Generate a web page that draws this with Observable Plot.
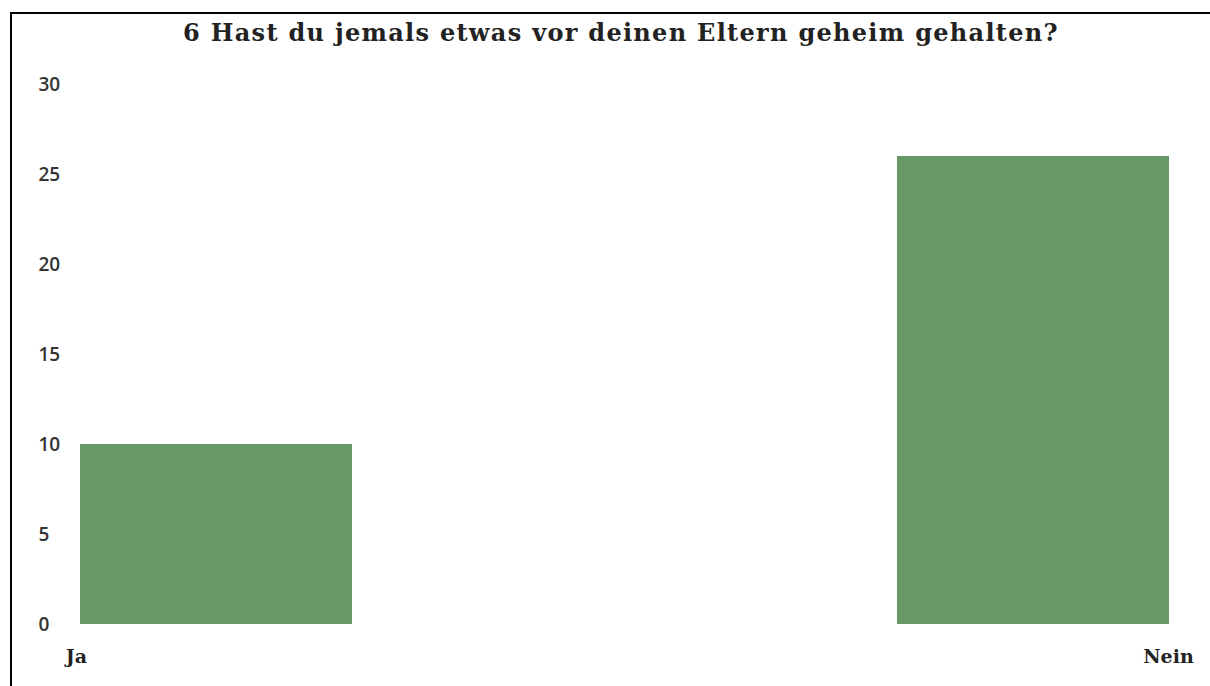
<!DOCTYPE html>
<html>
<head>
<meta charset="utf-8">
<script src="https://cdn.jsdelivr.net/npm/d3@7"></script>
<script src="https://cdn.jsdelivr.net/npm/@observablehq/plot@0.6"></script>
<style>
  html, body { margin: 0; padding: 0; background: #fff; }
  body { width: 1210px; height: 686px; position: relative; overflow: hidden; }
  #frame { position: absolute; left: 10px; top: 12px; width: 1198px; height: 680px;
           border-top: 2px solid #000; border-left: 2px solid #000; }
  #title { position: absolute; left: 11px; width: 1220px; top: 18px; text-align: center;
           font-family: "DejaVu Serif", serif; font-weight: bold; font-size: 24px;
           letter-spacing: 1.3px; color: #222; }
  #chart { position: absolute; left: 0; top: 60px; }
</style>
</head>
<body>
<div id="frame"></div>
<div id="title">6 Hast du jemals etwas vor deinen Eltern geheim gehalten?</div>
<div id="chart"></div>
<script>
const categories = ["Ja", "Nein"];
const counts = [10, 26];
const yTicks = [0, 5, 10, 15, 20, 25, 30];

const data = categories.map((c, i) => ({category: c, count: counts[i]}));

const chart = Plot.plot({
  width: 1210,
  height: 626,
  marginTop: 24,
  marginBottom: 62,
  marginLeft: 80,
  marginRight: 40,
  x: {domain: categories, paddingInner: 0.667, paddingOuter: 0, axis: null, label: null},
  y: {domain: [0, 30], axis: null, label: null},
  marks: [
    Plot.barY(data, {x: "category", y: "count", fill: "#679966"}),
    Plot.axisY({ticks: yTicks, label: null, tickSize: 0, tickPadding: 0, textAnchor: "start", dx: -42,
      fontFamily: "Open Sans", fontWeight: 600, fontSize: 19, fill: "#333"}),
    Plot.axisX({ticks: ["Ja"], label: null, tickSize: 0, tickPadding: 25, dx: -140,
      fontFamily: "DejaVu Serif", fontWeight: "bold", fontSize: 19, fill: "#222"}),
    Plot.axisX({ticks: ["Nein"], label: null, tickSize: 0, tickPadding: 25, dx: 135,
      fontFamily: "DejaVu Serif", fontWeight: "bold", fontSize: 19, fill: "#222"})
  ]
});
document.getElementById("chart").appendChild(chart);
</script>
</body>
</html>
